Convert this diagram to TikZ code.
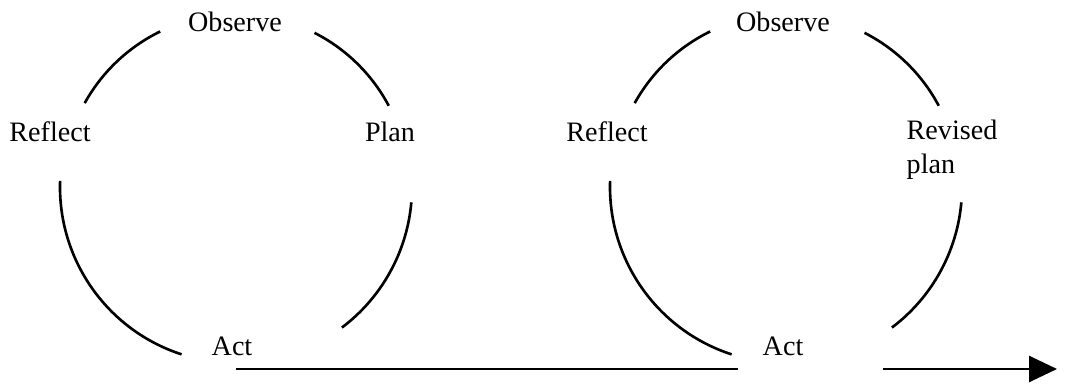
\documentclass[tikz,border=0pt]{standalone}
\usepackage{fontspec}
\setmainfont{Liberation Serif}
\usetikzlibrary{arrows.meta}

\begin{document}
\begin{tikzpicture}[x=0.2mm, y=0.2mm,
  loop/.style={line width=1.5pt, color=black},
  stage/.style={font=\fontsize{16}{19.3}\selectfont, inner sep=1pt}]
\useasboundingbox (0,0) rectangle (1083,386);
\coordinate (C1) at (236,199);
\coordinate (C2) at (786,199);

% first cycle
\node[stage] (obs1) at (235,364) {Observe};
\node[stage] (ref1) at (50,254) {Reflect};
\node[stage] (plan1) at (390,254) {Plan};
\node[stage] (act1) at (232,40) {Act};

   \draw[loop] (C1) ++(116:173) arc[start angle=116, end angle=151, radius=173];
   \draw[loop] (C1) ++(63:173) arc[start angle=63, end angle=28, radius=173];
   \draw[loop] (C1) ++(178:176) arc[start angle=178, end angle=252, radius=176];
   \draw[loop] (C1) ++(-5:176) arc[start angle=-5, end angle=-53, radius=176];

% second cycle
\node[stage] (obs2) at (783,364) {Observe};
\node[stage] (ref2) at (607,254) {Reflect};
\node[stage, align=left] (plan2) at (952,236) {Revised\\plan};
\node[stage] (act2) at (783,40) {Act};

   \draw[loop] (C2) ++(116:173) arc[start angle=116, end angle=151, radius=173];
   \draw[loop] (C2) ++(63:173) arc[start angle=63, end angle=28, radius=173];
   \draw[loop] (C2) ++(178:176) arc[start angle=178, end angle=252, radius=176];
   \draw[loop] (C2) ++(-5:176) arc[start angle=-5, end angle=-53, radius=176];

% time line
\coordinate (t0) at (236,17);
\coordinate (t1) at (738,17);
\coordinate (t2) at (883,17);
\coordinate (t3) at (1057,17);
   \draw[loop] (t0) -- (t1);
   \draw[loop, -{Triangle[length=5.6mm, width=5.2mm]}] (t2) -- (t3);
\end{tikzpicture}
\end{document}
